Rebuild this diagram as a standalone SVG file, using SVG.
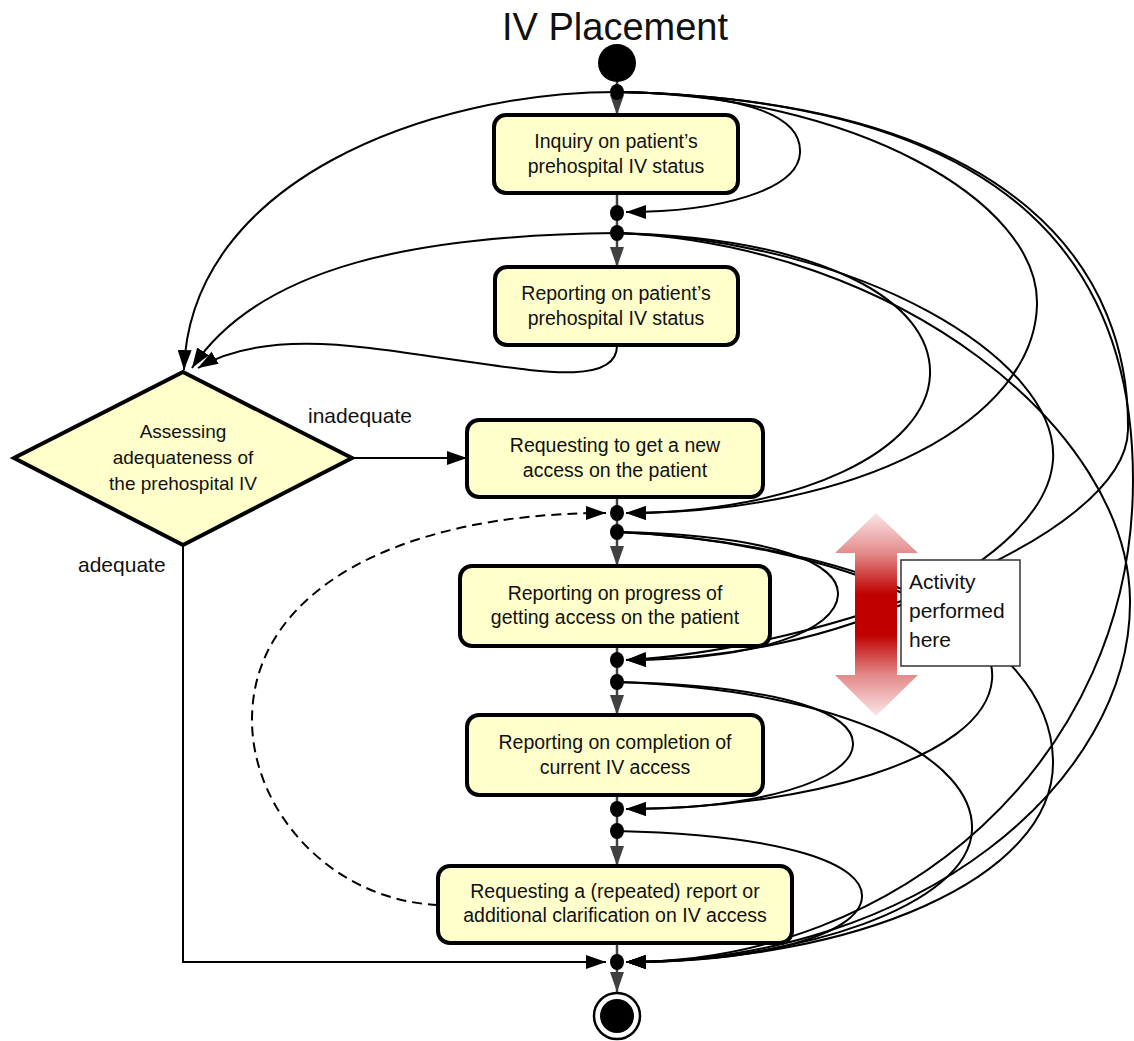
<svg xmlns="http://www.w3.org/2000/svg" width="1134" height="1041" viewBox="0 0 1134 1041">
<defs>
<style>
.box{fill:#ffffcc;stroke:#000;stroke-width:4}
.t{font-family:"Liberation Sans",Arial,sans-serif;font-size:19.5px;fill:#111;text-anchor:middle}
.lbl{font-family:"Liberation Sans",Arial,sans-serif;font-size:21px;fill:#111}
.c{fill:none;stroke:#000;stroke-width:2}
.cm{fill:none;stroke:#000;stroke-width:2;marker-end:url(#ab)}
.dash{fill:none;stroke:#000;stroke-width:2;stroke-dasharray:10 6;marker-end:url(#ab)}
.col{fill:none;stroke:#404040;stroke-width:2.5}
.cola{fill:none;stroke:#404040;stroke-width:2.5;marker-end:url(#ag)}
.dot{fill:#000}
</style>
<marker id="ab" viewBox="0 0 20 14" refX="20" refY="7" markerWidth="20" markerHeight="14" markerUnits="userSpaceOnUse" orient="auto"><path d="M0,0L20,7L0,14Z" fill="#000"/></marker>
<marker id="ag" viewBox="0 0 20 14" refX="20" refY="7" markerWidth="20" markerHeight="14" markerUnits="userSpaceOnUse" orient="auto"><path d="M0,0L20,7L0,14Z" fill="#404040"/></marker>
<linearGradient id="red" x1="0" y1="513" x2="0" y2="716" gradientUnits="userSpaceOnUse">
<stop offset="0" stop-color="#fae6e6"/>
<stop offset="0.2" stop-color="#e38a8a"/>
<stop offset="0.4" stop-color="#c00000"/>
<stop offset="0.6" stop-color="#c00000"/>
<stop offset="0.8" stop-color="#e38a8a"/>
<stop offset="1" stop-color="#fae6e6"/>
</linearGradient>
</defs>
<rect width="1134" height="1041" fill="#fff"/>
<text x="615" y="40" font-family="'Liberation Sans',Arial,sans-serif" font-size="38" text-anchor="middle" fill="#111">IV Placement</text>

<g id="connectors">
<!-- central column -->
<path class="col" d="M617,80V92"/>
<path class="cola" d="M617,99V115"/>
<path class="col" d="M617,193V233"/>
<path class="cola" d="M617,240V267"/>
<path class="col" d="M617,497V532"/>
<path class="cola" d="M617,539V566"/>
<path class="col" d="M617,646V682"/>
<path class="cola" d="M617,689V715"/>
<path class="col" d="M617,795V831"/>
<path class="cola" d="M617,838V866"/>
<path class="col" d="M617,943V962"/>
<path class="cola" d="M617,969V992"/>
<!-- to diamond -->
<path class="cm" d="M617,92 C430,92 190,180 184,370"/>
<path class="cm" d="M617,233 C420,235 260,265 192,368"/>
<path class="cm" d="M617,345 C618,385 540,372 470,362 C380,350 270,325 198,368"/>
<!-- diamond outputs -->
<path class="cm" d="M352,458 L467,458"/>
<path class="cm" d="M183,545 L183,962 L606,962"/>
<path class="dash" d="M438,905 C330,900 252,810 252,720 C252,590 400,513 606,513"/>
<!-- from F1 -->
<path class="cm" d="M617,92 C760,94 802,120 800,153 C798,190 720,212 626,212"/>
<path class="cm" d="M617,92 C850,95 1040,200 1037,305 C1034,420 860,513 626,513"/>
<path class="cm" d="M617,92 C1030,100 1130,280 1128,430 C1126,540 820,650 626,660"/>
<path class="cm" d="M617,92 C1030,100 1133,280 1133,480 C1133,760 900,962 626,962"/>
<!-- from F2 -->
<path class="cm" d="M617,233 C820,238 933,300 930,375 C927,450 800,513 626,513"/>
<path class="cm" d="M617,233 C860,240 1060,360 1053,460 C1046,560 840,660 626,660"/>
<path class="cm" d="M617,233 C900,245 1128,430 1130,600 C1132,780 920,962 626,962"/>
<!-- from F4 -->
<path class="cm" d="M617,532 C780,535 840,565 838,595 C836,630 760,660 626,660"/>
<path class="cm" d="M617,532 C800,540 1000,600 992,680 C985,760 800,809 626,809"/>
<path class="cm" d="M617,532 C820,540 1050,620 1053,760 C1056,880 850,962 626,962"/>
<!-- from F5 -->
<path class="cm" d="M617,682 C790,686 855,715 853,745 C851,780 760,809 626,809"/>
<path class="cm" d="M617,682 C850,690 975,760 972,830 C969,905 800,962 626,962"/>
<!-- from F6 -->
<path class="cm" d="M617,831 C790,835 864,865 862,897 C860,935 760,962 626,962"/>
</g>

<g id="red-arrow">
<path d="M876,513 L918,553 L897,553 L897,675 L918,675 L876,716 L835,675 L855,675 L855,553 L835,553 Z" fill="url(#red)"/>
</g>
<g id="note">
<rect x="901" y="560" width="119" height="106" fill="#fff" stroke="#333" stroke-width="1.5"/>
<text class="lbl" x="909" y="589">Activity</text>
<text class="lbl" x="909" y="618">performed</text>
<text class="lbl" x="909" y="647">here</text>
</g>

<g id="start"><circle cx="617" cy="63" r="19" fill="#000"/></g>
<g id="end"><circle cx="617" cy="1016" r="23" fill="#fff" stroke="#000" stroke-width="2.5"/><circle cx="617" cy="1016" r="17" fill="#000"/></g>

<g id="dots">
<ellipse class="dot" cx="617" cy="92" rx="7" ry="8"/>
<ellipse class="dot" cx="617" cy="213" rx="7" ry="8"/>
<ellipse class="dot" cx="617" cy="233" rx="7" ry="8"/>
<ellipse class="dot" cx="617" cy="513" rx="7" ry="8"/>
<ellipse class="dot" cx="617" cy="532" rx="7" ry="8"/>
<ellipse class="dot" cx="617" cy="660" rx="7" ry="8"/>
<ellipse class="dot" cx="617" cy="682" rx="7" ry="8"/>
<ellipse class="dot" cx="617" cy="809" rx="7" ry="8"/>
<ellipse class="dot" cx="617" cy="831" rx="7" ry="8"/>
<ellipse class="dot" cx="617" cy="962" rx="7" ry="8"/>
</g>

<g id="box1">
<rect class="box" x="494" y="115" width="244" height="78" rx="12"/>
<text class="t" x="616" y="148">Inquiry on patient’s</text>
<text class="t" x="616" y="173">prehospital IV status</text>
</g>
<g id="box2">
<rect class="box" x="495" y="267" width="243" height="78" rx="12"/>
<text class="t" x="616" y="300">Reporting on patient’s</text>
<text class="t" x="616" y="325">prehospital IV status</text>
</g>
<g id="diamond">
<path class="box" d="M183,372 L352,458 L183,545 L14,458 Z"/>
<text class="t" x="183" y="438" style="font-size:19px">Assessing</text>
<text class="t" x="183" y="464" style="font-size:19px">adequateness of</text>
<text class="t" x="183" y="490" style="font-size:19px">the prehospital IV</text>
</g>
<text class="lbl" x="308" y="423">inadequate</text>
<text class="lbl" x="78" y="572">adequate</text>
<g id="box3">
<rect class="box" x="467" y="420" width="296" height="77" rx="12"/>
<text class="t" x="615" y="452">Requesting to get a new</text>
<text class="t" x="615" y="477">access on the patient</text>
</g>
<g id="box4">
<rect class="box" x="460" y="566" width="310" height="80" rx="12"/>
<text class="t" x="615" y="600">Reporting on progress of</text>
<text class="t" x="615" y="624">getting access on the patient</text>
</g>
<g id="box5">
<rect class="box" x="467" y="715" width="296" height="80" rx="12"/>
<text class="t" x="615" y="749">Reporting on completion of</text>
<text class="t" x="615" y="774">current IV access</text>
</g>
<g id="box6">
<rect class="box" x="438" y="866" width="354" height="77" rx="12"/>
<text class="t" x="615" y="898">Requesting a (repeated)  report or</text>
<text class="t" x="615" y="922">additional clarification on IV access</text>
</g>
</svg>
